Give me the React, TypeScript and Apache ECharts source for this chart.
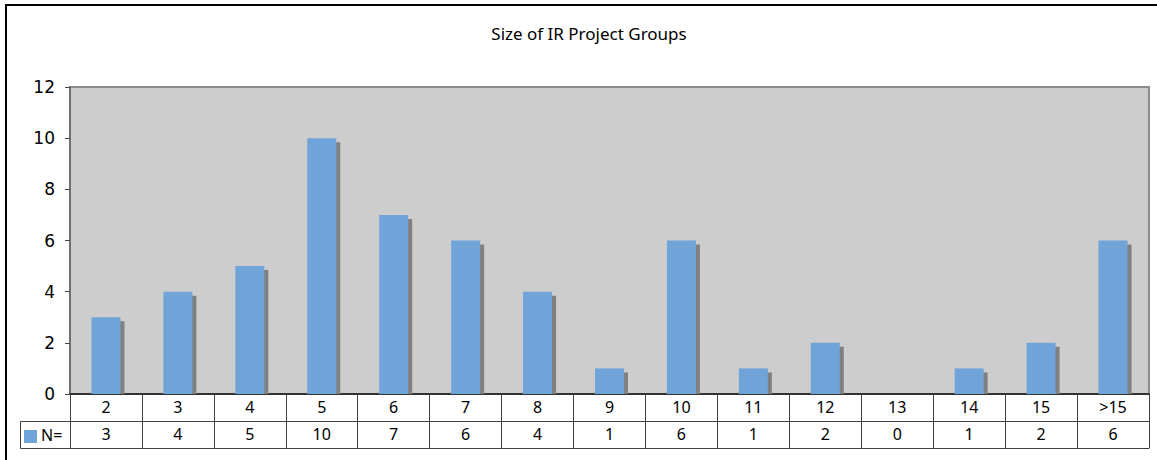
import React, { useEffect, useRef } from "react";
import * as echarts from "echarts";

const title = "Size of IR Project Groups";
const categories = ["2", "3", "4", "5", "6", "7", "8", "9", "10", "11", "12", "13", "14", "15", ">15"];
const counts = [3, 4, 5, 10, 7, 6, 4, 1, 6, 1, 2, 0, 1, 2, 6];
const seriesName = "N=";
const yMin = 0;
const yMax = 12;
const yStep = 2;

const BAR_COLOR = "#70a3d8";
const SHADOW_COLOR = "#808080";
const TABLE_LINE = "#404040";
const TABLE_FONT = "'Noto Sans', sans-serif";

export default function App() {
  const ref = useRef<HTMLDivElement>(null);
  useEffect(() => {
    if (!ref.current) return;
    const chart = echarts.init(ref.current, undefined, { renderer: "svg" });
    const labelStyle = {
      color: "#000",
      fontFamily: TABLE_FONT,
      fontSize: 16,
      lineHeight: 16,
      margin: 5,
      interval: 0,
    };
    chart.setOption({
      animation: false,
      backgroundColor: "#ffffff",
      title: {
        text: title,
        left: 584,
        top: 20,
        textAlign: "center",
        textStyle: { fontFamily: TABLE_FONT, fontSize: 17, fontWeight: "normal", color: "#000" },
      },
      grid: {
        left: 70,
        right: 8,
        top: 87,
        bottom: 66,
        show: true,
        backgroundColor: "#cdcdcd",
        borderColor: "#8c8c8c",
        borderWidth: 2,
      },
      xAxis: [
        {
          type: "category",
          data: categories,
          position: "bottom",
          axisLine: { show: true, lineStyle: { color: "#333", width: 2 } },
          axisTick: { show: true, length: 27, lineStyle: { color: TABLE_LINE, width: 1 } },
          axisLabel: labelStyle,
          splitLine: { show: false },
        },
        {
          type: "category",
          data: counts.map(String),
          position: "bottom",
          offset: 27,
          axisLine: { show: true, lineStyle: { color: TABLE_LINE, width: 1 } },
          axisTick: { show: true, length: 27, lineStyle: { color: TABLE_LINE, width: 1 } },
          axisLabel: labelStyle,
          splitLine: { show: false },
        },
        {
          type: "category",
          data: categories,
          position: "bottom",
          offset: 54,
          axisLine: { show: true, lineStyle: { color: TABLE_LINE, width: 1 } },
          axisTick: { show: false },
          axisLabel: { show: false },
          splitLine: { show: false },
        },
      ],
      yAxis: {
        type: "value",
        min: yMin,
        max: yMax,
        interval: yStep,
        axisLine: { show: true, lineStyle: { color: "#707070", width: 2 } },
        axisTick: { show: true, length: 5, lineStyle: { color: "#444", width: 1 } },
        axisLabel: { color: "#000", fontFamily: "'DejaVu Sans', sans-serif", fontSize: 17, margin: 15 },
        splitLine: { show: false },
      },
      graphic: [
        {
          type: "rect",
          shape: { x: 6, y: 5, width: 1300, height: 600 },
          style: { fill: "none", stroke: "#000", lineWidth: 2 },
          silent: true,
        },
        {
          type: "polyline",
          shape: { points: [[70, 421.5], [20.5, 421.5], [20.5, 448.5], [70, 448.5]] },
          style: { fill: "none", stroke: TABLE_LINE, lineWidth: 1 },
          silent: true,
        },
        {
          type: "rect",
          shape: { x: 24, y: 430, width: 13, height: 13 },
          style: { fill: BAR_COLOR },
          silent: true,
        },
        {
          type: "text",
          x: 41,
          y: 435,
          style: {
            text: seriesName,
            fontFamily: TABLE_FONT,
            fontSize: 16,
            fill: "#000",
            verticalAlign: "middle",
            align: "left",
          },
          silent: true,
        },
      ],
      series: [
        {
          type: "custom",
          name: seriesName,
          xAxisIndex: 0,
          yAxisIndex: 0,
          encode: { x: 0, y: 1 },
          data: counts.map((v, i) => [i, v]),
          renderItem: (params: any, api: any) => {
            const idx = api.value(0);
            const v = api.value(1);
            const top = api.coord([idx, v]);
            const base = api.coord([idx, 0]);
            const w = 29;
            const h = base[1] - top[1];
            if (h <= 0) return { type: "group", children: [] };
            const x = top[0] - w / 2;
            return {
              type: "group",
              children: [
                {
                  type: "rect",
                  shape: { x: x + 4, y: top[1] + 4, width: w, height: Math.max(h - 4, 0) },
                  style: { fill: SHADOW_COLOR },
                },
                {
                  type: "rect",
                  shape: { x, y: top[1], width: w, height: h },
                  style: { fill: BAR_COLOR },
                },
              ],
            };
          },
        },
      ],
    });
    return () => chart.dispose();
  }, []);
  return (
    <div
      ref={ref}
      style={{ position: "fixed", left: 0, top: 0, width: 1157, height: 460 }}
    />
  );
}
